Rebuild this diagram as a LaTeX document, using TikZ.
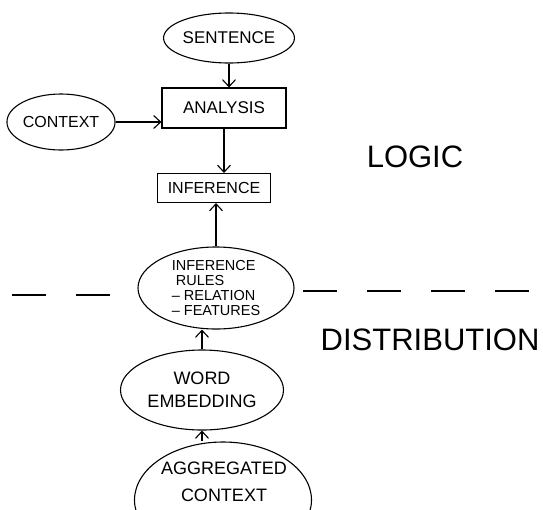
\documentclass[tikz,border=0pt]{standalone}
\usepackage{fontspec}
\setmainfont{Liberation Sans}
\usetikzlibrary{arrows.meta,shapes.geometric}
\begin{document}
\begin{tikzpicture}[x=1pt,y=-1pt,
  line width=1.1pt,
  bubble/.style={draw,ellipse,inner sep=0pt,align=center},
  box/.style={draw,rectangle,inner sep=0pt,align=center},
  label/.style={inner sep=0pt,align=center},
  flow/.style={-{Straight Barb[length=7pt,width=13pt]}},
  side/.style={font=\fontsize{31}{34}\selectfont,inner sep=0pt},
  divider/.style={dash pattern=on 34pt off 30pt}]
\useasboundingbox (0,0) rectangle (543,509);
\clip (0,0) rectangle (543,509);

\node[bubble,minimum width=117pt,minimum height=50pt,font=\fontsize{17}{20}\selectfont] (sentence) at (229,38) {SENTENCE};
\node[box,minimum width=124pt,minimum height=40pt,font=\fontsize{17}{20}\selectfont] (analysis) at (224,108) {ANALYSIS};
\node[bubble,minimum width=108pt,minimum height=56pt,font=\fontsize{16}{19}\selectfont] (context) at (61,122) {CONTEXT};
\node[box,minimum width=113pt,minimum height=29pt,font=\fontsize{16}{19}\selectfont] (inference) at (214,188) {INFERENCE};
\node[bubble,minimum width=156pt,minimum height=82pt,font=\fontsize{14.5}{15}\selectfont,align=left] (rules) at (216,288)
  {INFERENCE\\ \ RULES\\ -- RELATION\\ -- FEATURES};
\node[bubble,minimum width=163pt,minimum height=80pt,font=\fontsize{18}{23}\selectfont] (embed) at (202,390) {WORD\\EMBEDDING};
\node[bubble,minimum width=177pt,minimum height=116pt] (agg) at (223,500) {};
\node[label,font=\fontsize{18}{27}\selectfont,anchor=north] (aggtext) at (224,461) {AGGREGATED\\CONTEXT};

\node[side] (logic) at (415,157) {LOGIC};
\node[side,anchor=east] (distribution) at (540,340) {DISTRIBUTION};

\draw[flow] (sentence.south) -- (sentence.south |- analysis.north);
\draw[flow] (context.east) -- (context.east -| analysis.west);
\draw[flow] (analysis.south) -- (analysis.south |- inference.north);
\draw[flow] (rules.north) -- (rules.north |- inference.south);
\draw[flow] (embed.north) -- (embed.north |- rules.south);
\draw[flow] (embed.south |- agg.north) -- (embed.south);

\coordinate (dl) at (12,295);
\coordinate (dr) at (303,291);
\coordinate (de) at (543,291);
\draw[divider] (dl) -- (dl -| rules.west);
\draw[divider] (dr) -- (de);
\end{tikzpicture}
\end{document}
